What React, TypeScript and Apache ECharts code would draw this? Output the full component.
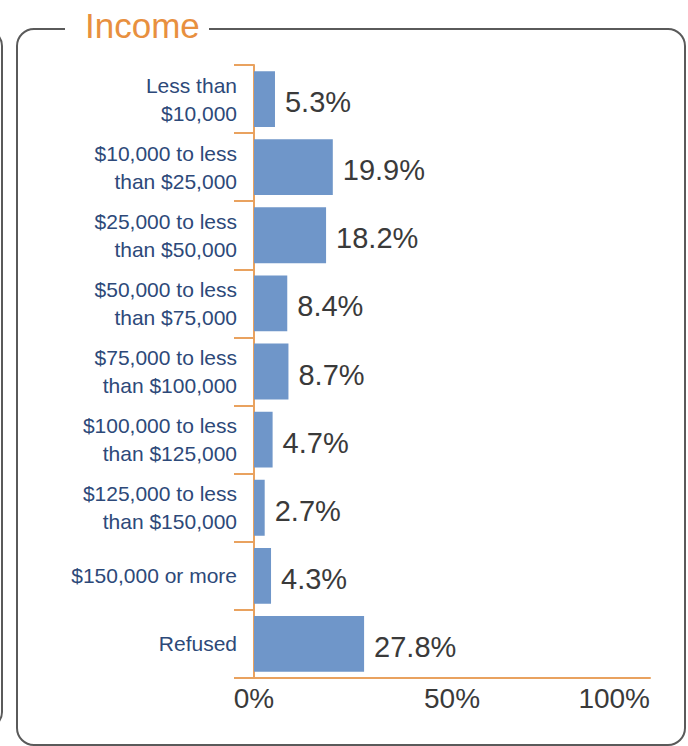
import React, { useEffect, useRef } from "react";
import * as echarts from "echarts";

const categories = [
  "Less than\n$10,000",
  "$10,000 to less\nthan $25,000",
  "$25,000 to less\nthan $50,000",
  "$50,000 to less\nthan $75,000",
  "$75,000 to less\nthan $100,000",
  "$100,000 to less\nthan $125,000",
  "$125,000 to less\nthan $150,000",
  "$150,000 or more",
  "Refused",
];
const values = [5.3, 19.9, 18.2, 8.4, 8.7, 4.7, 2.7, 4.3, 27.8];
const xTicks = [0, 50, 100];
const title = "Income";

const FONT = "'Liberation Sans', Arial, Helvetica, sans-serif";
const ORANGE = "#e9a25f";
const BAR = "#6f96c9";

export default function App() {
  const ref = useRef<HTMLDivElement>(null);
  useEffect(() => {
    if (!ref.current) return;
    const chart = echarts.init(ref.current, null, { renderer: "svg" });
    chart.setOption({
      animation: false,
      backgroundColor: "#ffffff",
      textStyle: { fontFamily: FONT },
      grid: { left: 254, top: 65, width: 396, height: 613, containLabel: false },
      xAxis: {
        type: "value",
        min: xTicks[0],
        max: xTicks[xTicks.length - 1],
        interval: 50,
        axisLine: { show: true, lineStyle: { color: ORANGE, width: 2 } },
        axisTick: { show: false },
        splitLine: { show: false },
        axisLabel: {
          formatter: "{value}%",
          fontSize: 28,
          color: "#3a3a3a",
          fontFamily: FONT,
          margin: 6,
          alignMaxLabel: "right",
        },
      },
      yAxis: {
        type: "category",
        data: categories,
        inverse: true,
        axisLine: { show: true, lineStyle: { color: ORANGE, width: 2 } },
        axisTick: { show: true, length: 20, lineStyle: { color: ORANGE, width: 2 } },
        axisLabel: {
          fontSize: 21,
          lineHeight: 28,
          color: "#2d4979",
          fontFamily: FONT,
          margin: 17,
          align: "right",
        },
        splitLine: { show: false },
      },
      series: [
        {
          type: "bar",
          data: values,
          barCategoryGap: "18%",
          itemStyle: { color: BAR },
          label: {
            show: true,
            position: "right",
            distance: 10,
            offset: [0, 3],
            formatter: (p: any) => p.value.toFixed(1) + "%",
            fontSize: 29,
            color: "#3a3a3a",
            fontFamily: FONT,
          },
        },
      ],
      graphic: [
        {
          type: "rect",
          shape: { x: -300, y: 30, width: 302, height: 698, r: 16 },
          style: { fill: "none", stroke: "#5a5a5a", lineWidth: 2 },
          silent: true,
        },
        {
          type: "rect",
          shape: { x: 17, y: 29, width: 668, height: 716, r: 17 },
          style: { fill: "none", stroke: "#5a5a5a", lineWidth: 2 },
          silent: true,
        },
        {
          type: "rect",
          shape: { x: 65, y: 20, width: 144, height: 18 },
          style: { fill: "#ffffff" },
          silent: true,
        },
        {
          type: "text",
          x: 85,
          y: 25,
          style: {
            text: title,
            fontSize: 35,
            fill: "#e8903f",
            fontFamily: FONT,
            textAlign: "left",
            textVerticalAlign: "middle",
          },
          silent: true,
        },
      ],
    });
    return () => chart.dispose();
  }, []);
  return (
    <div
      ref={ref}
      style={{ position: "absolute", left: 0, top: 0, width: 688, height: 746 }}
    />
  );
}
